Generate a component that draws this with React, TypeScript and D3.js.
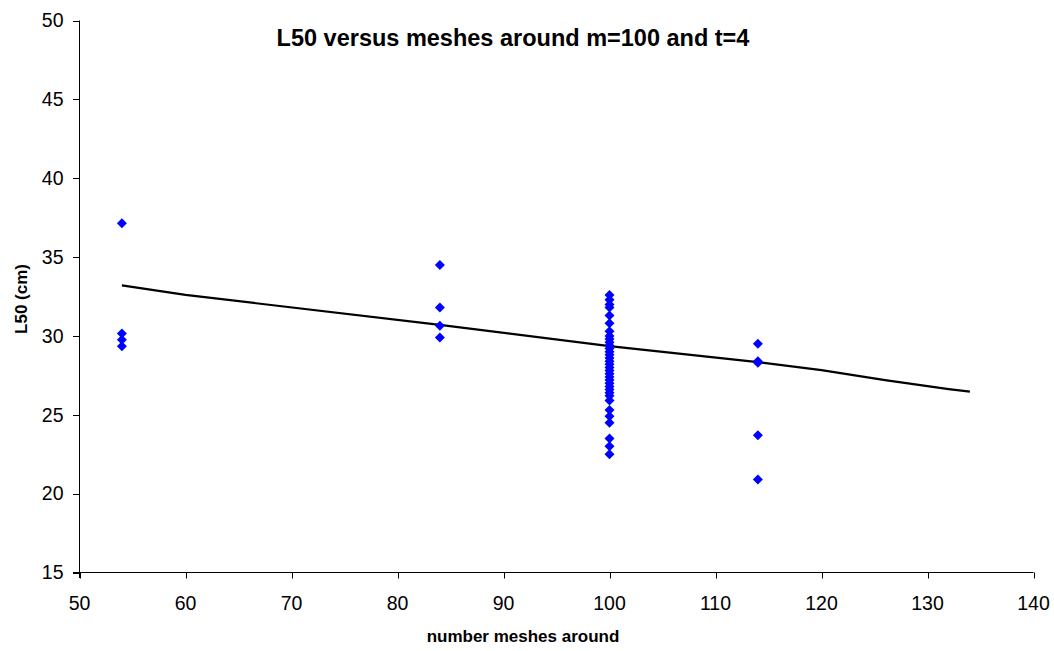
import React from "react";
import * as d3 from "d3";

const title = "L50 versus meshes around m=100 and t=4";
const xTitle = "number meshes around";
const yTitle = "L50 (cm)";

const xTicks = [50, 60, 70, 80, 90, 100, 110, 120, 130, 140];
const yTicks = [15, 20, 25, 30, 35, 40, 45, 50];

const l50At54 = [37.15, 30.15, 29.75, 29.35];
const l50At84 = [34.5, 31.8, 30.65, 29.9];
const l50At100 = [
  32.6, 32.3, 32.0, 31.8, 31.3, 30.8, 30.3, 30.0, 29.8, 29.6, 29.4, 29.2, 29.0,
  28.8, 28.6, 28.4, 28.2, 28.0, 27.8, 27.6, 27.4, 27.2, 27.0, 26.8, 26.6, 26.4,
  26.2, 25.9, 25.3, 24.9, 24.5, 23.5, 23.0, 22.5,
];
const l50At114 = [29.5, 28.4, 28.3, 23.7, 20.9];

const trendMeshes = [54, 60, 84, 100, 114, 120, 126, 132, 134];
const trendL50 = [33.2, 32.6, 30.7, 29.35, 28.34, 27.83, 27.2, 26.63, 26.47];

const points: [number, number][] = [
  ...l50At54.map((v) => [54, v] as [number, number]),
  ...l50At84.map((v) => [84, v] as [number, number]),
  ...l50At100.map((v) => [100, v] as [number, number]),
  ...l50At114.map((v) => [114, v] as [number, number]),
];

export default function App() {
  const W = 1054;
  const H = 651;
  const x = d3.scaleLinear().domain([50, 140]).range([79.5, 1033.5]);
  const y = d3.scaleLinear().domain([15, 50]).range([572.5, 20.5]);
  const line = d3
    .line<number>()
    .x((_, i) => x(trendMeshes[i]))
    .y((d) => y(d));
  const diamond = d3.symbol().type(d3.symbolSquare).size(50)();
  const font = "'Liberation Sans', Arial, sans-serif";

  return (
    <svg
      width={W}
      height={H}
      style={{ position: "absolute", left: 0, top: 0, background: "#fff" }}
      fontFamily={font}
    >
      <rect width={W} height={H} fill="#fff" />
      <line x1={79.5} x2={79.5} y1={y(50)} y2={578} stroke="#000" strokeWidth={1} />
      <line x1={73} x2={x(140)} y1={572.5} y2={572.5} stroke="#000" strokeWidth={1} />
      {yTicks.map((t) => (
        <g key={"y" + t}>
          <line x1={73} x2={79.5} y1={Math.round(y(t)) + 0.5} y2={Math.round(y(t)) + 0.5} stroke="#000" />
          <text x={63.5} y={y(t)} dy="0.35em" textAnchor="end" fontSize={19.5} fill="#000">
            {t}
          </text>
        </g>
      ))}
      {xTicks.map((t) => (
        <g key={"x" + t}>
          <line x1={Math.round(x(t)) + 0.5} x2={Math.round(x(t)) + 0.5} y1={572.5} y2={578.5} stroke="#000" />
          <text x={x(t)} y={610} textAnchor="middle" fontSize={19.5} fill="#000">
            {t}
          </text>
        </g>
      ))}
      <path d={line(trendL50) || ""} fill="none" stroke="#000" strokeWidth={2.2} />
      {points.map((p, i) => (
        <path
          key={i}
          d={diamond}
          transform={`translate(${x(p[0])},${y(p[1])}) rotate(45)`}
          fill="#0000ff"
        />
      ))}
      <text x={513} y={46} textAnchor="middle" fontSize={23.5} fontWeight="bold" fill="#000">
        {title}
      </text>
      <text x={523} y={642} textAnchor="middle" fontSize={17} fontWeight="bold" fill="#000">
        {xTitle}
      </text>
      <text
        transform={`translate(27,299) rotate(-90)`}
        textAnchor="middle"
        fontSize={17}
        fontWeight="bold"
        fill="#000"
      >
        {yTitle}
      </text>
    </svg>
  );
}
